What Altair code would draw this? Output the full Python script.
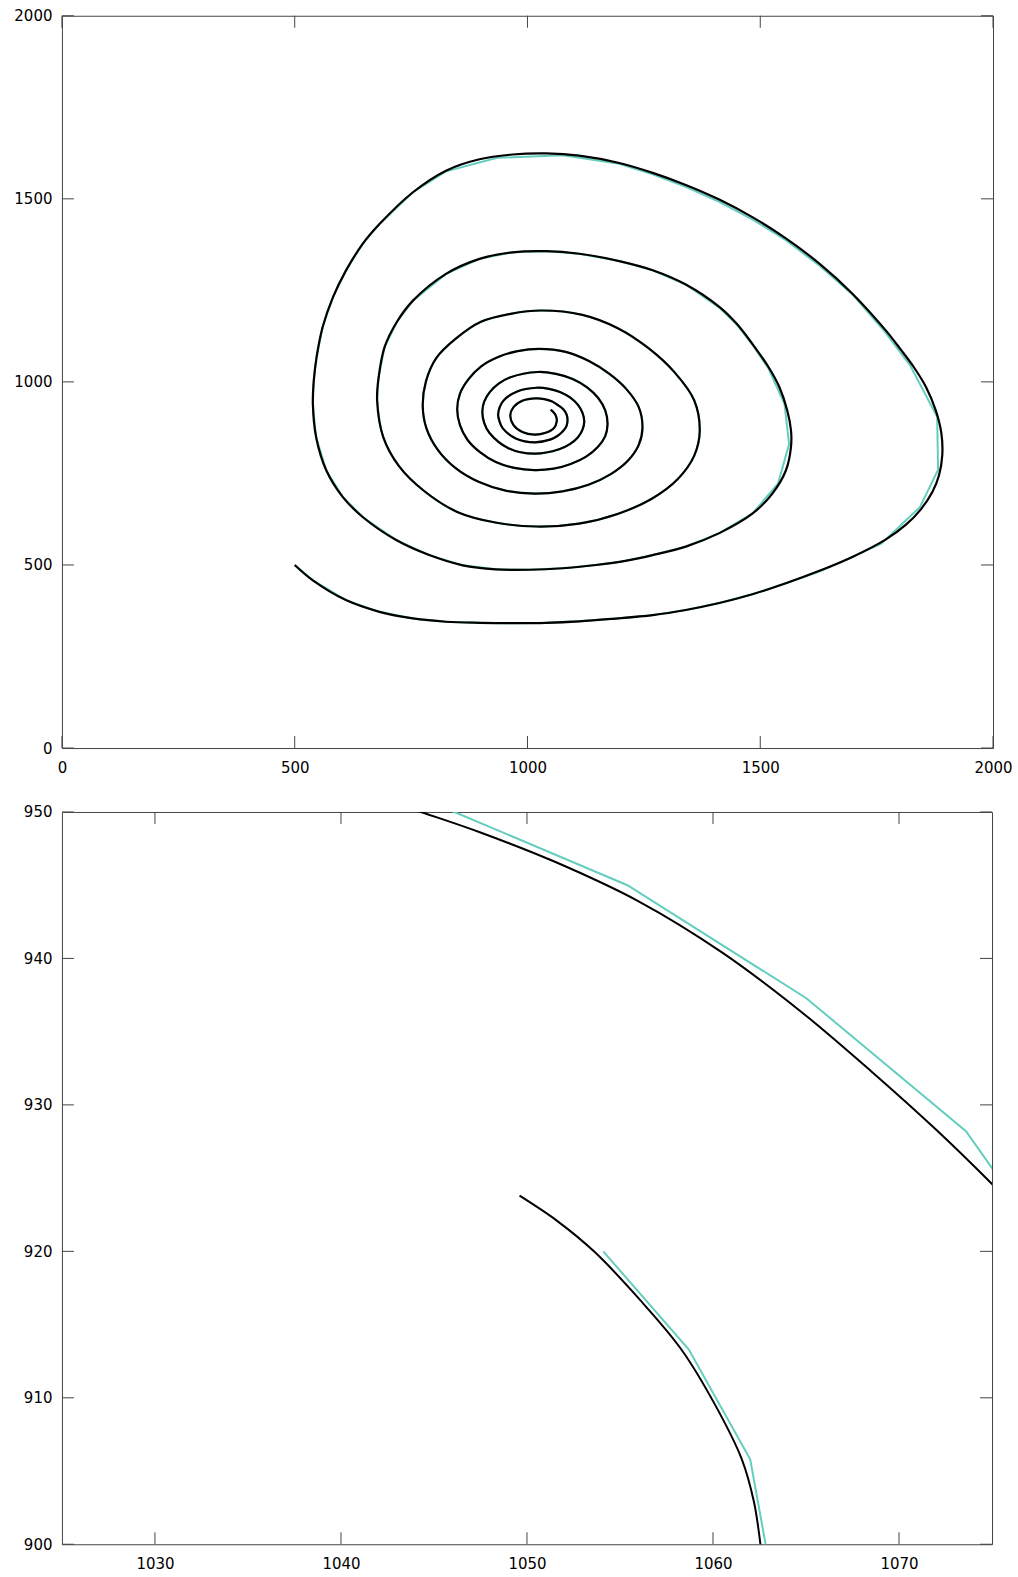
import altair as alt
import pandas as pd

FONT = "DejaVu Sans"
BLACK = "#000000"
CYAN = "#64cebe"
FRAME = "#444444"

# ---------------- top panel: whole trajectory (x, y) ----------------
loop_a = [(500, 500), (539, 458), (610, 404), (682, 372), (754, 354), (825, 345), (897, 342),
          (968, 341), (1040, 342), (1111, 346), (1183, 353), (1269, 363), (1340, 377), (1412, 396),
          (1483, 420), (1555, 450), (1627, 484), (1698, 522), (1770, 570), (1813, 610), (1845, 652),
          (1870, 700), (1884, 745), (1891, 800), (1889, 860), (1877, 922), (1856, 986), (1830, 1040),
          (1802, 1088), (1770, 1140), (1698, 1241), (1627, 1323), (1555, 1392), (1483, 1450),
          (1412, 1498), (1340, 1538), (1269, 1571), (1197, 1598), (1111, 1618), (1040, 1624),
          (968, 1621), (897, 1608), (825, 1577), (754, 1518), (682, 1431), (646, 1377), (610, 1304),
          (582, 1231), (560, 1150), (547, 1068), (541, 1004), (539, 940)]
loop_b = [(546, 849), (568, 758), (603, 686), (646, 631), (718, 568), (789, 527), (861, 499),
          (932, 488), (1004, 487), (1075, 491), (1147, 500), (1210, 511), (1269, 527), (1340, 550),
          (1412, 587), (1483, 640), (1526, 695), (1555, 758), (1566, 822), (1566, 868), (1558, 922),
          (1541, 986), (1518, 1040), (1483, 1104), (1450, 1158), (1412, 1205), (1340, 1266),
          (1269, 1305), (1197, 1330), (1111, 1350), (1040, 1357), (968, 1354), (897, 1336),
          (825, 1295), (754, 1222), (720, 1165), (693, 1095), (680, 1010), (677, 950)]
loop_c = [(690, 850), (724, 770), (778, 702), (849, 645), (931, 616), (1020, 605), (1111, 613),
          (1195, 640), (1267, 681), (1323, 735), (1358, 798), (1370, 865), (1358, 950),
          (1316, 1026), (1262, 1090), (1195, 1146), (1118, 1183), (1030, 1195), (964, 1186),
          (900, 1164), (846, 1118), (804, 1065), (782, 1002)]
loop_d = [(775, 935), (783, 873), (807, 815), (845, 765), (895, 727), (953, 703), (1015, 695),
          (1075, 701), (1131, 719), (1179, 748), (1216, 785), (1239, 828), (1247, 875),
          (1239, 931), (1212, 981), (1176, 1022), (1132, 1057), (1082, 1082), (1025, 1090),
          (979, 1084), (937, 1068), (900, 1042), (873, 1007), (855, 968)]
loop_e = [(849, 925), (855, 882), (871, 842), (898, 808), (932, 781), (972, 765), (1015, 759),
          (1056, 763), (1093, 776), (1126, 796), (1151, 822), (1167, 852), (1172, 885),
          (1167, 922), (1152, 956), (1128, 985), (1097, 1008), (1061, 1022), (1022, 1027),
          (962, 1012), (938, 995), (919, 972), (907, 946)]
loop_f = [(903, 918), (907, 888), (918, 861), (959, 819), (1015, 804), (1068, 816), (1091, 830),
          (1108, 848), (1118, 869), (1122, 892), (1118, 916), (1108, 938), (1092, 957),
          (1071, 972), (1046, 981), (1020, 984), (978, 974), (948, 948)]
loop_g = [(937, 912), (940, 892), (947, 873), (976, 845), (1015, 835), (1050, 843), (1065, 853),
          (1076, 865), (1084, 880), (1086, 896), (1084, 911), (1077, 925), (1066, 936),
          (1052, 947), (1036, 953), (1018, 955), (990, 949), (970, 931)]
loop_h = [(963, 908), (970, 882), (989, 863), (1015, 856), (1039, 861), (1057, 874), (1063, 893),
          (1062.6, 900), (1060.3, 909.3), (1056.2, 916.5), (1051.6, 922.0), (1049.6, 923.8)]

# coarse (cyan) solution: its vertices leave the smooth curve only on the two outer loops
coarse_a = [(500, 500), (539, 458), (610, 404), (682, 372), (754, 354), (825, 345), (897, 342),
            (968, 341), (1040, 342), (1111, 346), (1183, 353), (1269, 363), (1340, 377), (1412, 396),
            (1483, 420), (1555, 450), (1627, 482), (1760, 558), (1843, 658), (1882, 760),
            (1880, 905), (1822, 1045), (1767, 1138), (1698, 1239), (1627, 1318), (1555, 1387),
            (1483, 1444), (1412, 1492), (1340, 1533), (1269, 1567), (1197, 1596), (1076, 1619),
            (935, 1612), (825, 1575), (754, 1518), (682, 1431), (646, 1377), (610, 1304),
            (582, 1231), (560, 1150), (547, 1068), (541, 1004), (539, 940)]
coarse_b = [(546, 849), (568, 758), (603, 686), (646, 631), (718, 568), (789, 527), (861, 499),
            (932, 488), (1004, 487), (1075, 491), (1147, 500), (1210, 511), (1269, 527), (1340, 550),
            (1412, 587), (1483, 640), (1538, 722), (1562, 830), (1552, 940), (1518, 1036),
            (1483, 1102), (1450, 1156), (1412, 1203), (1340, 1266), (1269, 1305), (1197, 1330),
            (1111, 1350), (1040, 1357), (968, 1354), (897, 1336), (825, 1295), (754, 1222),
            (720, 1165), (693, 1095), (680, 1010), (677, 950)]

main_ticks = [0, 500, 1000, 1500, 2000]

# ---------------- bottom panel: close-up ----------------
zoom_black_outer = [(1042.0, 951.0), (1044.3, 950.0), (1047.5, 948.6), (1051.5, 946.6), (1056.0, 943.9),
                    (1060.5, 940.4), (1064.7, 936.4), (1068.5, 932.3), (1072.0, 928.3), (1075.0, 924.6),
                    (1077.0, 922.0)]
zoom_black_inner = [(1062.8, 897.0), (1062.55, 900.0), (1062.2, 902.9), (1061.55, 905.8),
                    (1060.1, 909.55), (1058.3, 913.3), (1056.1, 916.65), (1053.6, 920.0),
                    (1051.6, 922.1), (1049.6, 923.8)]
zoom_cyan_outer = [(1036.0, 954.5), (1046.1, 950.0), (1055.4, 945.0), (1065.0, 937.3), (1073.6, 928.2),
                   (1077.0, 922.1)]
zoom_cyan_inner = [(1063.4, 896.0), (1062.0, 905.8), (1058.7, 913.3), (1054.1, 920.0)]

zoom_ticks_x = [1030, 1040, 1050, 1060, 1070]
zoom_ticks_y = [900, 910, 920, 930, 940, 950]


def frame(points):
    return pd.DataFrame({"x": [p[0] for p in points], "y": [p[1] for p in points],
                         "i": list(range(len(points)))})


traj = loop_a + loop_b + loop_c + loop_d + loop_e + loop_f + loop_g + loop_h
coarse_outer = coarse_a + coarse_b
coarse_inner = [(677, 950)] + loop_c + loop_d + loop_e + loop_f + loop_g + loop_h


def panel(lines, xdom, ydom, xt, yt, W, H, tl=12):
    xs = alt.Scale(domain=xdom, nice=False, zero=False)
    ys = alt.Scale(domain=ydom, nice=False, zero=False)
    common = dict(ticks=False, domain=False, grid=False, title=None, labelFont=FONT,
                  labelFontSize=15, labelColor="black", labelFlush=False, format="d",
                  labelOverlap=False)
    xax = alt.Axis(values=xt, labelPadding=12, **common)
    yax = alt.Axis(values=yt, labelPadding=10, **common)
    layers = []
    for pts, color, width, interp in lines:
        layers.append(
            alt.Chart(frame(pts)).mark_line(color=color, strokeWidth=width, clip=True,
                                            interpolate=interp, strokeCap="butt")
            .encode(x=alt.X("x:Q", scale=xs, axis=xax), y=alt.Y("y:Q", scale=ys, axis=yax),
                    order=alt.Order("i:Q"))
        )
    txd = pd.DataFrame({"v": xt})
    tyd = pd.DataFrame({"v": yt})
    rule = dict(color=FRAME, strokeWidth=1)
    layers.append(alt.Chart(txd).mark_rule(**rule).encode(
        x=alt.X("v:Q", scale=xs, axis=xax), y=alt.value(H), y2=alt.value(H - tl)))
    layers.append(alt.Chart(txd).mark_rule(**rule).encode(
        x=alt.X("v:Q", scale=xs, axis=xax), y=alt.value(0), y2=alt.value(tl)))
    layers.append(alt.Chart(tyd).mark_rule(**rule).encode(
        y=alt.Y("v:Q", scale=ys, axis=yax), x=alt.value(0), x2=alt.value(tl)))
    layers.append(alt.Chart(tyd).mark_rule(**rule).encode(
        y=alt.Y("v:Q", scale=ys, axis=yax), x=alt.value(W), x2=alt.value(W - tl)))
    return alt.layer(*layers).properties(width=W, height=H)


top = panel([(coarse_outer, CYAN, 2.0, "linear"), (coarse_inner, CYAN, 2.0, "catmull-rom"),
             (traj, BLACK, 2.2, "catmull-rom")],
            [0, 2000], [0, 2000], main_ticks, main_ticks, 932, 733)
bottom = panel([(zoom_cyan_outer, CYAN, 2.0, "linear"), (zoom_cyan_inner, CYAN, 2.0, "linear"),
                (zoom_black_outer, BLACK, 2.0, "catmull-rom"),
                (zoom_black_inner, BLACK, 2.0, "catmull-rom")],
               [1025, 1075], [900, 950], zoom_ticks_x, zoom_ticks_y, 931, 733)

chart = (
    alt.vconcat(top, bottom, spacing=28)
    .properties(padding={"left": 13, "top": 7, "right": 5, "bottom": 5}, background="white")
    .configure_view(stroke=FRAME, strokeWidth=1)
)

chart.save("out.html", embed_options={"renderer": "svg", "actions": False})
